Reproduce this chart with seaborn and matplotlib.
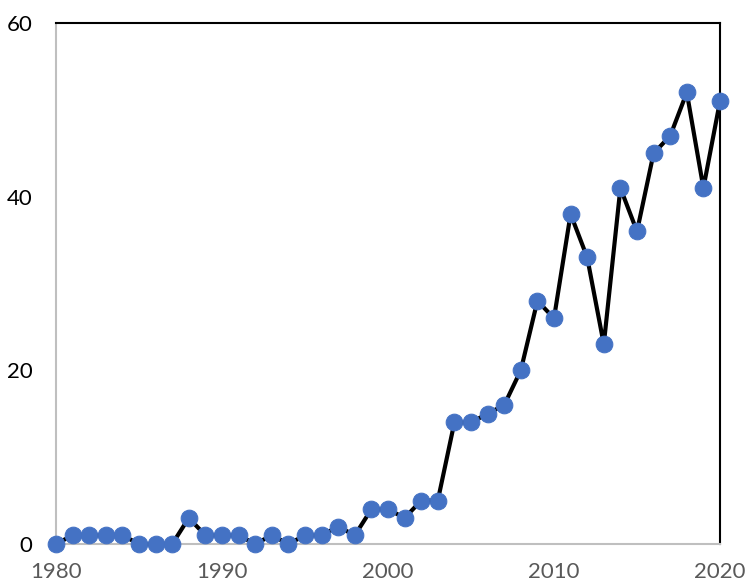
import matplotlib
matplotlib.use("Agg")
import matplotlib.pyplot as plt
import seaborn as sns
import pandas as pd

years = list(range(1980, 2021))
counts = [0, 1, 1, 1, 1, 0, 0, 0, 3, 1,
          1, 1, 0, 1, 0, 1, 1, 2, 1, 4,
          4, 3, 5, 5, 14, 14, 15, 16, 20, 28,
          26, 38, 33, 23, 41, 36, 45, 47, 52, 41,
          51]
xticks = [1980, 1990, 2000, 2010, 2020]
yticks = [0, 20, 40, 60]

sns.set_style("white")
plt.rcParams['font.family'] = ['Lato', 'DejaVu Sans']

df = pd.DataFrame({"year": years, "count": counts})

fig = plt.figure(figsize=(7.45, 5.83), dpi=100)
ax = fig.add_axes([56/745, 1-544/583, (720-56)/745, (544-23)/583])

sns.lineplot(data=df, x="year", y="count", ax=ax, color="black", linewidth=3,
             marker="o", markersize=12, markerfacecolor="#4472C4",
             markeredgecolor="#4472C4", clip_on=False, zorder=3)

ax.set_xlim(1980, 2020)
ax.set_ylim(0, 60)
ax.set_xticks(xticks)
ax.set_yticks(yticks)
ax.set_xlabel("")
ax.set_ylabel("")
ax.tick_params(axis="x", labelsize=16, labelcolor="#595959", length=0, pad=13)
ax.tick_params(axis="y", labelsize=16, labelcolor="black", length=0, pad=17)

for s in ["left", "bottom"]:
    ax.spines[s].set_color("#bfbfbf")
    ax.spines[s].set_linewidth(1.5)
for s in ["top", "right"]:
    ax.spines[s].set_color("black")
    ax.spines[s].set_linewidth(1.5)
    ax.spines[s].set_visible(True)
ax.grid(False)

fig.savefig("out.png", dpi=100)
